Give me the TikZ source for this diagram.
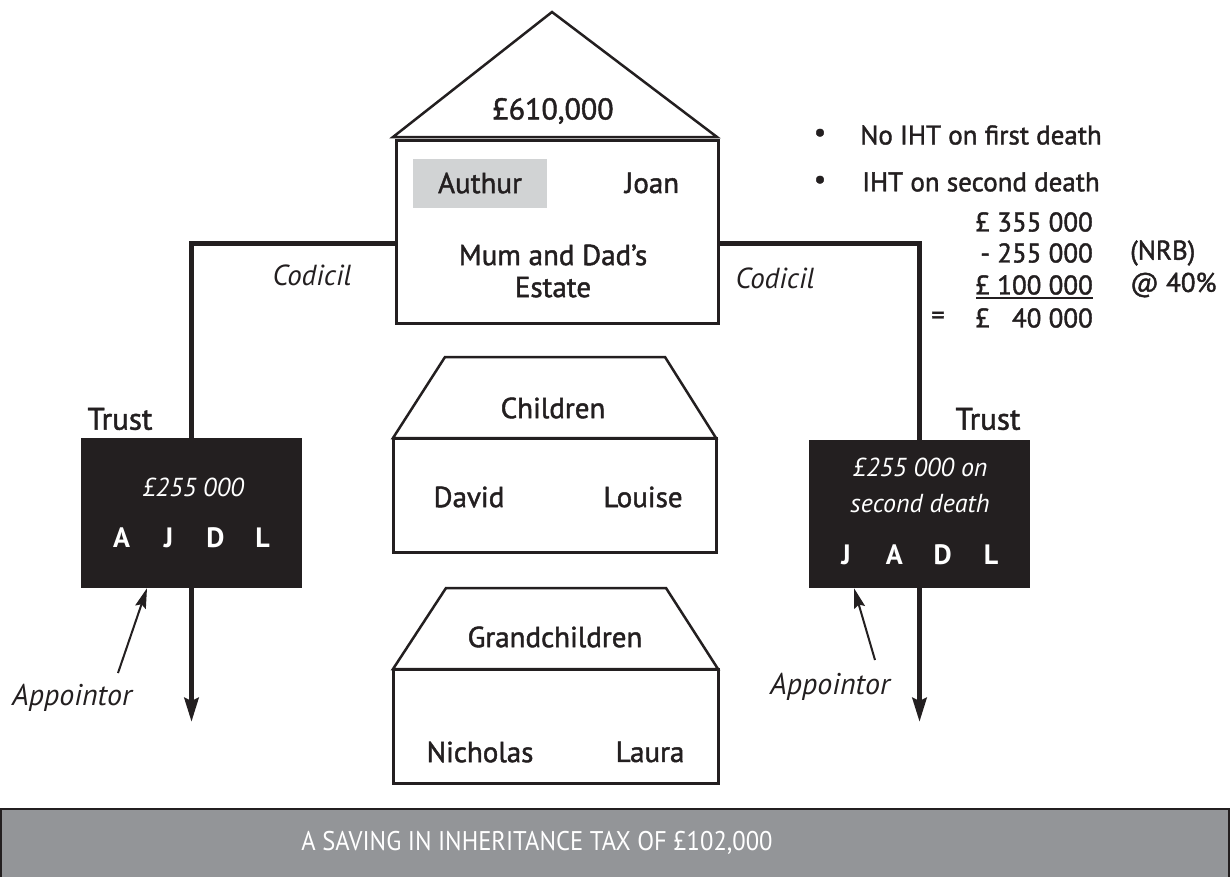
\documentclass[tikz,border=0pt]{standalone}
\usepackage{fontspec}
\setmainfont{PT Sans}
\newfontfamily\medium[FakeBold=1.5]{PT Sans}
\newfontfamily\bannerfont[FakeStretch=0.91]{PT Sans}
\usetikzlibrary{arrows.meta}
\definecolor{ink}{HTML}{231F20}
\definecolor{paleGrey}{HTML}{D1D3D4}
\definecolor{bandGrey}{HTML}{939598}

\begin{document}
\begin{tikzpicture}[x=1pt,y=-1pt,
  every node/.style={inner sep=0pt, text=ink},
  txt/.style={font=\medium\fontsize{29}{32}\selectfont},
  twoline/.style={font=\medium\fontsize{29}{32}\selectfont, align=center},
  ital/.style={font=\fontsize{29}{32}\selectfont\itshape},
  note/.style={font=\medium\fontsize{27}{30}\selectfont},
  boxtxt/.style={font=\fontsize{26}{36}\selectfont\itshape, text=white, align=center},
  initials/.style={font=\fontsize{28}{32}\selectfont\bfseries, text=white},
  housebody/.style={draw=ink, line width=3pt, fill=white, rectangle},
  roof/.style={draw=ink, line width=2.5pt, line join=miter, fill=white},
  trustbox/.style={fill=ink, rectangle},
  conn/.style={draw=ink, line width=5pt},
  downarrow/.style={draw=ink, line width=5pt, -{Stealth[width=14pt,length=24pt,inset=3pt]}},
  pointer/.style={draw=ink, line width=2pt, -{Stealth[width=11pt,length=20pt,inset=3pt]}},
]
\useasboundingbox (0,0) rectangle (1231,876);

% ---- parents' estate (house) ----
\draw[roof] (393,137) -- (552,12) -- (717,137) -- cycle;
\node[housebody, minimum width=322pt, minimum height=183pt] (estate) at (557,231.5) {};
\node[txt, font=\medium\fontsize{30}{32}\selectfont] (total) at (553,111) {£610,000};
\node[fill=paleGrey, minimum width=134pt, minimum height=49pt] (arthurbg) at (480,183.5) {};
\node[txt] (arthur) at (480,183) {Authur};
\node[txt] (joan) at (652,183) {Joan};
\node[twoline] (estname) at (553,271) {Mum and Dad’s\\Estate};

% ---- trusts ----
\node[trustbox, minimum width=221pt, minimum height=150pt] (trustL) at (191.5,513) {};
\node[trustbox, minimum width=221pt, minimum height=148pt] (trustR) at (919.5,514) {};
\node[txt, font=\medium\fontsize{31}{32}\selectfont] (trustLlbl) at (120,419) {Trust};
\node[txt, font=\medium\fontsize{31}{32}\selectfont] (trustRlbl) at (988,419) {Trust};
\node[boxtxt] (amtL) at (193,487) {£255 000};
\node[initials] (whoL) at (192,538) {\makebox[47pt]{A}\makebox[47pt]{J}\makebox[47pt]{D}\makebox[47pt]{L}};
\node[boxtxt] (amtR) at (920,485) {£255 000 on\\second death};
\node[initials] (whoR) at (918.5,555) {\makebox[48.3pt]{J}\makebox[48.3pt]{A}\makebox[48.3pt]{D}\makebox[48.3pt]{L}};

% ---- codicil connectors ----
\coordinate (estL) at (396,243);
\coordinate (estR) at (718,243);
\draw[conn] (estL) -| (trustL.north);
\draw[conn] (estR) -| (trustR.north);
\node[ital] (codL) at (312,275) {Codicil};
\node[ital] (codR) at (775,278) {Codicil};

% ---- onward distribution ----
\coordinate (endL) at (191.5,722);
\coordinate (endR) at (919.5,722);
\draw[downarrow] (trustL.south) -- (endL);
\draw[downarrow] (trustR.south) -- (endR);

% ---- appointors ----
\node[ital, font=\fontsize{30}{32}\selectfont\itshape] (appL) at (72,698) {Appointor};
\node[ital, font=\fontsize{30}{32}\selectfont\itshape] (appR) at (830,687) {Appointor};
\coordinate (appLtail) at (118,673);
\coordinate (appRtail) at (875,660);
\draw[pointer] (appLtail) -- ([xshift=-44.5pt]trustL.south);
\draw[pointer] (appRtail) -- ([xshift=-65.5pt]trustR.south);

% ---- children ----
\draw[roof] (393,438) -- (445,357) -- (665,357) -- (716,438) -- cycle;
\node[housebody, minimum width=323pt, minimum height=114pt] (kids) at (554.5,495) {};
\node[txt] (kidslbl) at (553,408) {Children};
\node[txt] (david) at (469,497) {David};
\node[txt] (louise) at (643,497) {Louise};

% ---- grandchildren ----
\draw[roof] (393,669) -- (446,588) -- (666,588) -- (718,669) -- cycle;
\node[housebody, minimum width=325pt, minimum height=114pt] (gkids) at (555.5,726) {};
\node[txt] (gkidslbl) at (555,637) {Grandchildren};
\node[txt] (nicholas) at (480,752) {Nicholas};
\node[txt] (laura) at (650,752) {Laura};

% ---- tax notes ----
\node[note] (b1) at (820,135) {•};
\node[note] (b2) at (820,182) {•};
\node[note, anchor=west] (n1) at (860,135) {No IHT on first death};
\node[note, anchor=west] (n2) at (862,182) {IHT on second death};
\node[note, anchor=east] (r1) at (1093,222) {£ 355 000};
\node[note, anchor=east] (r2) at (1093,253) {- 255 000};
\node[note, anchor=east] (r3) at (1093,285) {£ 100 000};
\node[note, anchor=east] (r4) at (1093,318) {£ \phantom{1}40 000};
\node[note] (eq) at (938,318) {=};
\draw[ink, line width=1.5pt] (976,298) -- (1093,298);
\node[note, anchor=west] (nrb) at (1130,253) {(NRB)};
\node[note, anchor=west] (rate) at (1130,285) {@ 40\%};

% ---- summary banner ----
\filldraw[fill=bandGrey, draw=ink, line width=2pt] (1,809) rectangle (1229,900);
\node[font=\bannerfont\fontsize{27}{30}\selectfont, text=white] (saving) at (537,843) {A SAVING IN INHERITANCE TAX OF £102,000};
\end{tikzpicture}
\end{document}
